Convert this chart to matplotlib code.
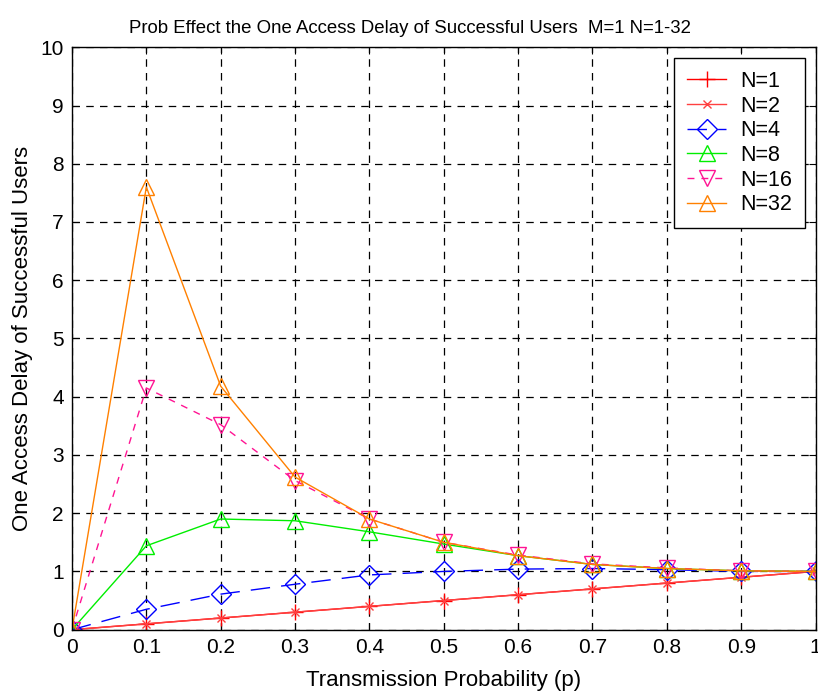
import matplotlib; matplotlib.use("Agg")
import matplotlib.pyplot as plt

plt.rcParams["font.family"] = ["Liberation Sans", "DejaVu Sans"]

p = [0, 0.1, 0.2, 0.3, 0.4, 0.5, 0.6, 0.7, 0.8, 0.9, 1.0]
n1 = [0, 0.1, 0.2, 0.3, 0.4, 0.5, 0.6, 0.7, 0.8, 0.9, 1.0]
n2 = [0, 0.1, 0.2, 0.3, 0.4, 0.5, 0.6, 0.7, 0.8, 0.9, 1.0]
n4 = [0, 0.35, 0.61, 0.78, 0.94, 1.0, 1.04, 1.05, 1.03, 1.0, 1.0]
n8 = [0, 1.44, 1.90, 1.87, 1.68, 1.47, 1.27, 1.12, 1.05, 1.01, 1.0]
n16 = [0, 4.15, 3.52, 2.56, 1.90, 1.50, 1.28, 1.13, 1.06, 1.01, 1.0]
n32 = [0, 7.6, 4.18, 2.62, 1.90, 1.50, 1.27, 1.12, 1.05, 1.01, 1.0]

# label, values, color, linestyle, marker, marker size
SERIES = [
    ("N=1", n1, "#ff0000", "-", "+", 11),
    ("N=2", n2, "#ff4040", "-", "x", 6),
    ("N=4", n4, "#0000ff", (0, (14, 8)), "D", 10),
    ("N=8", n8, "#00ee00", "-", "^", 12),
    ("N=16", n16, "#ff1493", (0, (5, 5)), "v", 12),
    ("N=32", n32, "#ff8000", "-", "^", 12),
]

fig = plt.figure(figsize=(8.18, 6.95), dpi=100)
ax = fig.add_axes([0.088, 0.094, 0.909, 0.838])

for label, ys, color, ls, mk, ms in SERIES:
    ax.plot(p, ys, color=color, ls=ls, lw=1.0, marker=mk, ms=ms,
            mfc="none", mec=color, mew=1.0, label=label)

ax.set_xlim(0, 1)
ax.set_ylim(0, 10)
ax.set_xticks(p)
ax.set_xticklabels(["0", "0.1", "0.2", "0.3", "0.4", "0.5", "0.6", "0.7", "0.8", "0.9", "1"])
ax.set_yticks(range(0, 11))
ax.tick_params(direction="in", top=True, right=True, labelsize=15, length=5, pad=6)
ax.grid(True, color="black", ls=(0, (6, 5)), lw=0.9)
for s in ax.spines.values():
    s.set_linewidth(1.0)

ax.set_title("Prob Effect the One Access Delay of Successful Users  M=1 N=1-32",
             fontsize=13.4, pad=10, x=0.454)
ax.set_xlabel("Transmission Probability (p)", fontsize=16, labelpad=9)
ax.set_ylabel("One Access Delay of Successful Users", fontsize=16, labelpad=5)

leg = ax.legend(loc="upper right", fontsize=15.5, fancybox=False, framealpha=1,
                edgecolor="black", borderaxespad=0.5, handlelength=1.8,
                labelspacing=0.17, handletextpad=0.65, borderpad=0.6)
leg.get_frame().set_linewidth(1.0)

fig.savefig("out.png", dpi=100)
